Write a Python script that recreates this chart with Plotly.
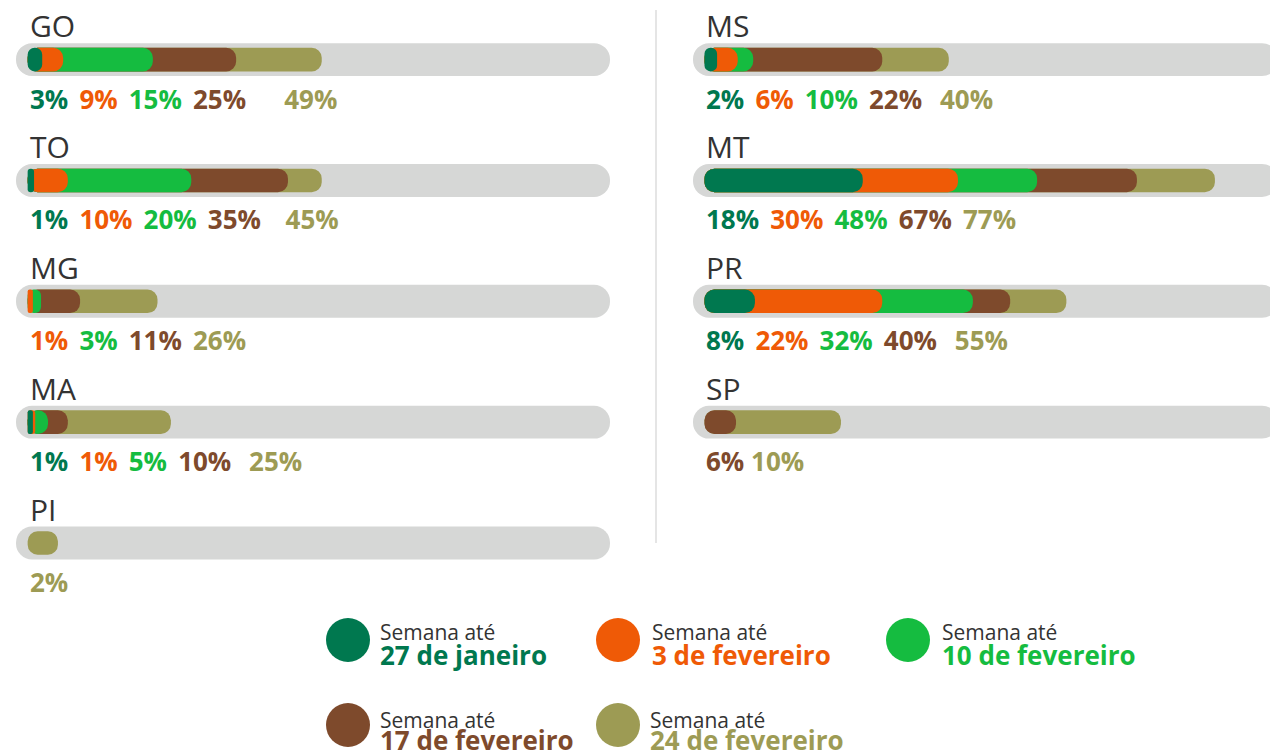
import plotly.graph_objects as go

# a pagina tem margem de 8 px no body: o grafico fica deslocado
OFF = 8
W, H = 1278 - OFF, 751 - OFF

# -------------------------------------------------------
# Dados
# -------------------------------------------------------

states = ["GO", "TO", "MG", "MA", "PI", "MS", "MT", "PR", "SP"]
column = [1, 1, 1, 1, 1, 2, 2, 2, 2]
row = [0, 1, 2, 3, 4, 0, 1, 2, 3]

weeks = ["27 de janeiro", "3 de fevereiro", "10 de fevereiro",
         "17 de fevereiro", "24 de fevereiro"]
colors = ["#00784F", "#EF5A06", "#15BC40", "#7E4A2C", "#9D9B54"]

# percentual rotulado (None = sem registro)
pct_27jan = [3, 1, None, 1, None, 2, 18, 8, None]
pct_03fev = [9, 10, 1, 1, None, 6, 30, 22, None]
pct_10fev = [15, 20, 3, 5, None, 10, 48, 32, None]
pct_17fev = [25, 35, 11, 10, None, 22, 67, 40, 6]
pct_24fev = [49, 45, 26, 25, 2, 40, 77, 55, 10]

# comprimento desenhado de cada barra (% da trilha)
len_27jan = [2.5, 1.1, None, 0.9, None, 2.2, 27.6, 8.8, None]
len_03fev = [6.1, 6.9, 0.9, 1.3, None, 5.8, 44.2, 31.0, None]
len_10fev = [21.5, 28.1, 2.3, 3.5, None, 8.5, 58.0, 46.8, None]
len_17fev = [35.8, 44.7, 9.0, 6.9, None, 31.0, 75.4, 53.3, 5.5]
len_24fev = [50.5, 50.5, 22.3, 24.6, 5.2, 42.6, 89.0, 63.1, 23.8]

pcts = [pct_27jan, pct_03fev, pct_10fev, pct_17fev, pct_24fev]
lens = [len_27jan, len_03fev, len_10fev, len_17fev, len_24fev]

# espacos extras antes do ultimo rotulo
last_gap = {"GO": 4, "TO": 2, "MA": 1, "MS": 1, "PR": 1}
tight = {"SP"}

TRACK = "#D6D7D6"
TEXT = "#333333"
PX_PER_UNIT = 5.8


def fx(p):
    return (p - OFF) / W


def fy(p):
    return 1 - (p - OFF) / H


# -------------------------------------------------------
# Barras em pilula: com base definida o plotly arredonda
# as duas pontas
# -------------------------------------------------------

def pills(starts, ends, ys, color, width, radius, xaxis):

    out = []

    for s, e, yy in zip(starts, ends, ys):

        d = e - s
        r = max(1, min(radius, int(d * PX_PER_UNIT / 2)))

        out.append(go.Bar(
            y=[yy],
            x=[d],
            base=[s],
            orientation="h",
            width=width,
            marker=dict(color=color, cornerradius=r, line=dict(width=0)),
            xaxis=xaxis,
            yaxis="y",
            hoverinfo="skip",
            showlegend=False
        ))

    return out


fig = go.Figure()

for col, xaxis in [(1, "x"), (2, "x2")]:

    idx = [i for i in range(len(states)) if column[i] == col]
    ys = [row[i] for i in idx]

    fig.add_traces(pills([-2] * len(idx), [100] * len(idx), ys,
                         TRACK, 0.272, 16, xaxis))

    # maior primeiro, a semana mais antiga por cima
    for k in reversed(range(len(weeks))):

        sel = [i for i in idx if lens[k][i] is not None]

        fig.add_traces(pills([0] * len(sel), [lens[k][i] for i in sel],
                             [row[i] for i in sel],
                             colors[k], 0.195, 10, xaxis))


# -------------------------------------------------------
# Rotulos
# -------------------------------------------------------

annotations = []

for i, st in enumerate(states):

    xref = "x" if column[i] == 1 else "x2"

    annotations.append(dict(
        x=0, y=row[i], xref=xref, yref="y",
        xanchor="left", yanchor="middle", yshift=34,
        text=st, showarrow=False,
        font=dict(family="Open Sans", size=30, color=TEXT)
    ))

    parts = [(pcts[k][i], colors[k]) for k in range(len(weeks))
             if pcts[k][i] is not None]

    sep = "\u00a0" if st in tight else "\u00a0\u2009"
    txt = ""

    for j, (v, c) in enumerate(parts):

        if j > 0:
            txt += sep
            if j == len(parts) - 1:
                txt += "\u00a0" * last_gap.get(st, 0)

        txt += f"<span style='color:{c}'><b>{v}%</b></span>"

    annotations.append(dict(
        x=0, y=row[i], xref=xref, yref="y",
        xanchor="left", yanchor="middle", yshift=-39,
        text=txt, showarrow=False,
        font=dict(family="Open Sans", size=26)
    ))


# legenda
leg_pos = [(348, 640), (618, 640), (908, 640), (348, 725), (618, 725)]
leg_text_x = [378, 650, 940, 378, 648]

shapes = []

for k, (cx, cy) in enumerate(leg_pos):

    shapes.append(dict(
        type="circle", xref="paper", yref="paper",
        x0=fx(cx - 22), x1=fx(cx + 22),
        y0=fy(cy + 22), y1=fy(cy - 22),
        fillcolor=colors[k], line=dict(width=0)
    ))

    top = -8 if k < 3 else -5
    bot = 15

    annotations.append(dict(
        x=fx(leg_text_x[k]), y=fy(cy + top),
        xref="paper", yref="paper", xanchor="left", yanchor="middle",
        text="Semana até", showarrow=False,
        font=dict(family="Open Sans", size=21, color=TEXT)
    ))

    annotations.append(dict(
        x=fx(leg_text_x[k]), y=fy(cy + bot),
        xref="paper", yref="paper", xanchor="left", yanchor="middle",
        text=f"<b>{weeks[k]}</b>", showarrow=False,
        font=dict(family="Open Sans", size=26, color=colors[k])
    ))

# divisoria
shapes.append(dict(
    type="line", xref="paper", yref="paper",
    x0=fx(656), x1=fx(656), y0=fy(10), y1=fy(543),
    line=dict(color="#DDDDDD", width=1.5)
))


# linhas centradas em 59.6 + 120.85*i px da janela
row0 = (59.6 - OFF) / 120.85
axis_off = dict(visible=False, showgrid=False, zeroline=False, fixedrange=True)

fig.update_layout(
    width=W,
    height=H,
    margin=dict(l=0, r=0, t=0, b=0),
    paper_bgcolor="white",
    plot_bgcolor="white",
    barmode="overlay",
    xaxis=dict(domain=[fx(16), fx(610)], range=[-2, 100], anchor="y", **axis_off),
    xaxis2=dict(domain=[fx(693), 1], range=[-2, 100], anchor="y", **axis_off),
    yaxis=dict(domain=[0, 1], range=[H / 120.85 - row0, -row0], **axis_off),
    annotations=annotations,
    shapes=shapes
)

fig.write_html("out.html")
